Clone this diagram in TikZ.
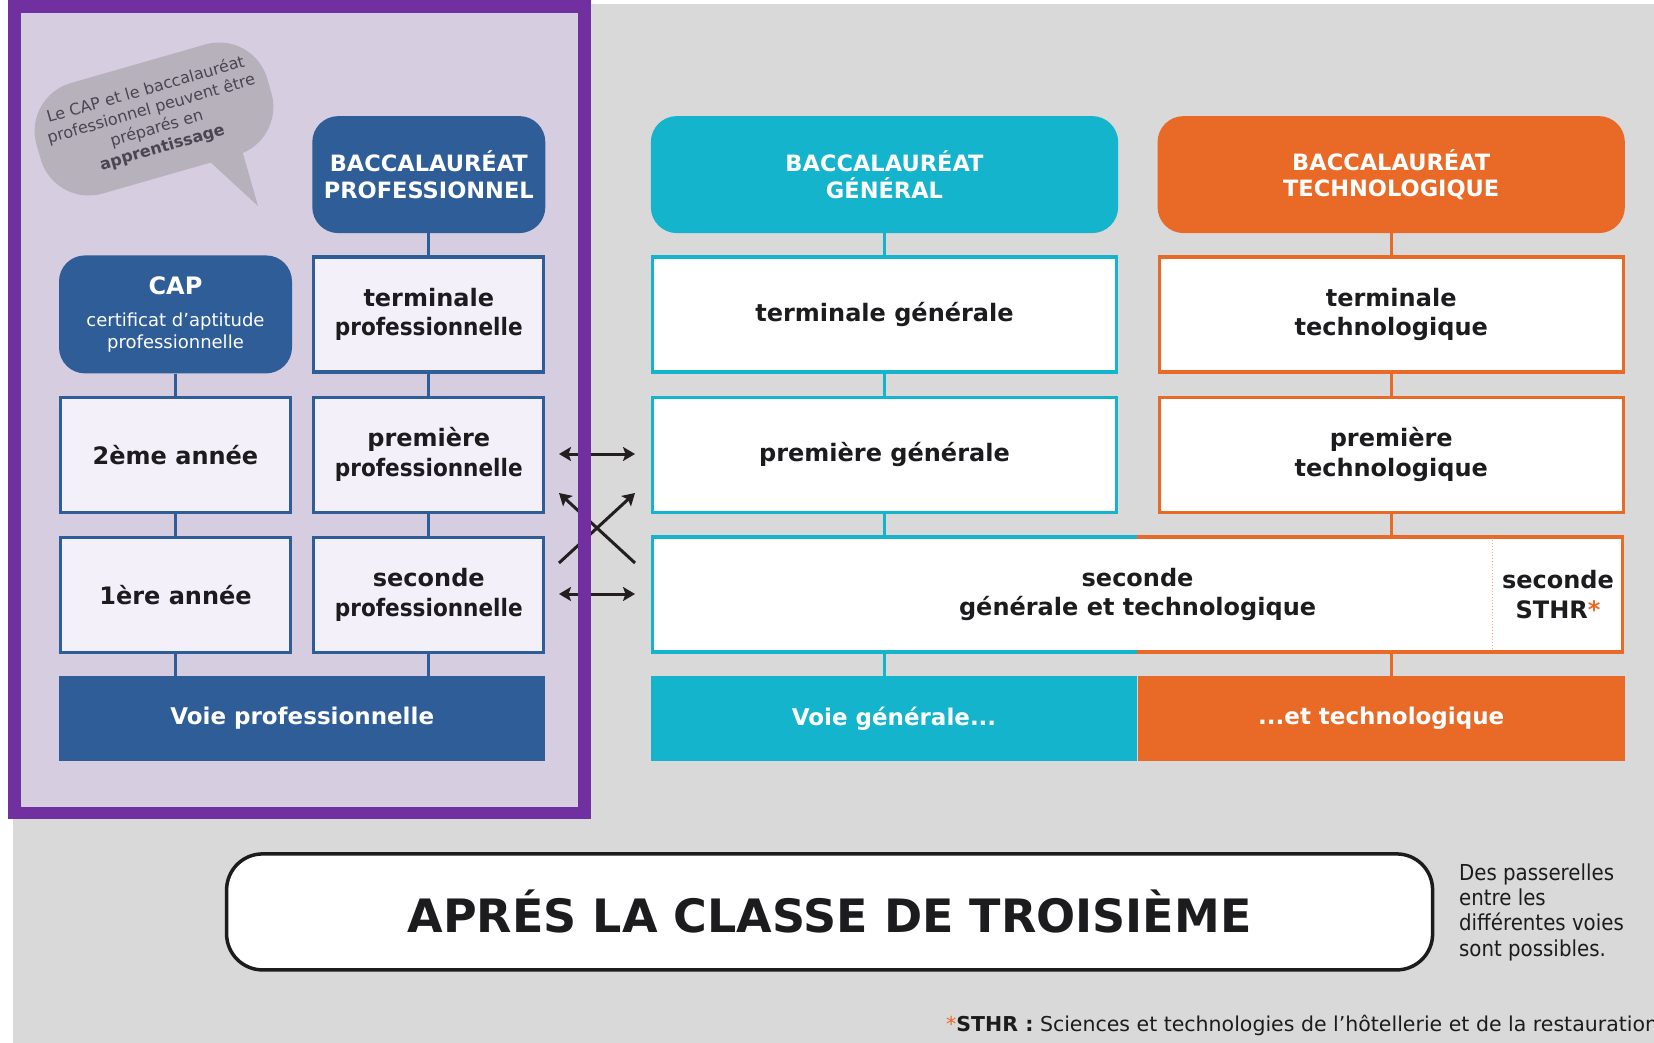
\documentclass[tikz,border=0pt]{standalone}
\usepackage{fontspec}
\usepackage{graphicx}
\setmainfont{DejaVu Sans}
\newfontfamily\etroite[FakeStretch=0.9]{DejaVu Sans}
\usetikzlibrary{positioning,arrows.meta}

\definecolor{fondgris}{HTML}{D9D9D9}
\definecolor{lavande}{HTML}{D6CEE0}
\definecolor{lavclair}{HTML}{F4F0FA}
\definecolor{cadreviolet}{HTML}{7030A0}
\definecolor{bleupro}{HTML}{2F5D98}
\definecolor{cyangen}{HTML}{14B4CC}
\definecolor{orangetech}{HTML}{E96A26}
\definecolor{grisbulle}{HTML}{B7B1BC}
\definecolor{encrebulle}{HTML}{4A4550}
\definecolor{encre}{HTML}{1C1C1E}
\definecolor{fleche}{HTML}{231F20}

\newcommand\serre[1]{\scalebox{0.9}[1]{#1}}

\begin{document}
\begin{tikzpicture}[x=1pt,y=-1pt,>={Stealth[length=12pt,width=14pt,inset=2.5pt]},
        node distance=22pt,
        case/.style={draw,line width=3.2pt,minimum width=230pt,minimum height=115pt,
            align=center,text=encre,font=\fontsize{24}{29.5}\selectfont\bfseries},
        pro/.style={case,draw=bleupro,fill=lavclair},
        gen/.style={case,draw=cyangen,fill=white,minimum width=464pt},
        tech/.style={case,draw=orangetech,fill=white,minimum width=464pt},
        bac/.style={rounded corners=26pt,minimum width=233pt,minimum height=117pt,align=center,
            text=white,font=\fontsize{22.5}{26.4}\selectfont\bfseries},
        voie/.style={minimum height=84.4pt,text=white,font=\fontsize{23}{28}\selectfont\bfseries},
        lien/.style={line width=3.2pt},
        passerelle/.style={line width=3pt,draw=fleche},
        bulle/.style={fill=grisbulle,rounded corners=50pt,minimum width=240pt,minimum height=115pt,
            inner sep=0pt,align=center,text=encrebulle,font=\fontsize{16}{20}\selectfont},
        titre/.style={draw=encre,line width=3.5pt,fill=white,rounded corners=36pt,
            minimum width=1206pt,minimum height=116pt,text=encre,font=\fontsize{46}{50}\selectfont\bfseries}]

    \useasboundingbox (0,0) rectangle (1654,1043);
    \fill[white] (0,0) rectangle (1654,1043);
    \fill[fondgris] (12.7,4) rectangle (1654,1043);
    \fill[lavande] (8,0) rectangle (590.7,819.3);

    \node[bulle, rotate=16] (bulle) at (154,119) {Le CAP et le baccalauréat\\professionnel peuvent être\\préparés en\\\textbf{apprentissage}};
    \fill[grisbulle] (208,160) -- (258,206) -- (242,150) -- cycle;

    \node[bac, fill=bleupro] (bacpro) at (428.8,174.6) {BACCALAURÉAT\\PROFESSIONNEL};
    \node[pro] (termpro) [below=of bacpro] {terminale\\\serre{professionnelle}};
    \node[pro] (prempro) [below=of termpro] {première\\\serre{professionnelle}};
    \node[pro] (secpro) [below=of prempro] {seconde\\\serre{professionnelle}};

    \node[bac, fill=bleupro, minimum height=118pt, font=\fontsize{18}{22.2}\selectfont] (cap) [left=20pt of termpro]
        {{\fontsize{24}{24}\selectfont\bfseries CAP}\\[10pt]certificat d’aptitude\\professionnelle};
    \node[pro] (deuxcap) [below=of cap] {2ème année};
    \node[pro] (premcap) [below=of deuxcap] {1ère année};

    \node[voie, fill=bleupro, minimum width=486.2pt] (voiepro) at (302.2,718.3) {Voie professionnelle};

    \node[bac, fill=cyangen, minimum width=467.3pt] (bacgen) at (884.5,174.6) {BACCALAURÉAT\\GÉNÉRAL};
    \node[gen] (termgen) [below=of bacgen] {terminale générale};
    \node[gen] (premgen) [below=of termgen] {première générale};

    \node[bac, fill=orangetech, minimum width=467.3pt] (bactech) [right=39pt of bacgen] {BACCALAURÉAT\\TECHNOLOGIQUE};
    \node[tech] (termtech) [below=of bactech] {terminale\\technologique};
    \node[tech] (premtech) [below=of termtech] {première\\technologique};

    \node[case, draw=none, fill=white, outer sep=0pt, minimum width=970.4pt] (secgt) at (1137.6,594.4)
        {seconde\\générale et technologique};
    \node[case, draw=none, outer sep=0pt, minimum width=131pt] (sthr) at (1558,594.4)
        {seconde\\STHR\textcolor{orangetech}{*}};
    \draw[orangetech!55, dotted, line width=1pt] (sthr.north west) -- (sthr.south west);

    \node[voie, fill=cyangen, minimum width=486.3pt] (voiegen) at (894,718.3) {Voie générale...};
    \node[voie, fill=orangetech, minimum width=487.3pt] (voietech) [right=0pt of voiegen] {...et technologique};

    \draw[lien, cyangen] (secgt.north -| voiegen.east) -- (secgt.north west) -- (secgt.south west) -- (secgt.south -| voiegen.east);
    \draw[lien, orangetech] (secgt.north -| voiegen.east) -- (secgt.north east) -- (secgt.south east) -- (secgt.south -| voiegen.east);

    \path[lien, bleupro]
    (bacpro) edge (termpro)
    (termpro) edge (prempro)
    (prempro) edge (secpro)
    (secpro) edge (secpro |- voiepro.north)
    (cap) edge (deuxcap)
    (deuxcap) edge (premcap)
    (premcap) edge (premcap |- voiepro.north);
    \path[lien, cyangen]
    (bacgen) edge (termgen)
    (termgen) edge (premgen)
    (premgen) edge (premgen |- secgt.north)
    (premgen |- secgt.south) edge (premgen |- voiegen.north);
    \path[lien, orangetech]
    (bactech) edge (termtech)
    (termtech) edge (premtech)
    (premtech) edge (premtech |- secgt.north)
    (premtech |- secgt.south) edge (premtech |- voietech.north);

    \coordinate (ga) at (559,454);
    \coordinate (da) at (635,454);
    \coordinate (gh) at (559,493);
    \coordinate (dh) at (635,493);
    \coordinate (gbas) at (559,563);
    \coordinate (dbas) at (635,563);
    \coordinate (gb) at (559,594);
    \coordinate (db) at (635,594);
    \draw[passerelle, <->] (ga) -- (da);
    \draw[passerelle, ->] (gbas) -- (dh);
    \draw[passerelle, ->] (dbas) -- (gh);
    \draw[passerelle, <->] (gb) -- (db);

    \draw[cadreviolet, line width=12.6pt] (14.3,6.3) rectangle (584.4,813);

    \node[titre] (titre) at (829.6,911.9) {APRÉS LA CLASSE DE TROISIÈME};
    \node[anchor=west, align=left, text=encre, font=\etroite\fontsize{22}{25.3}\selectfont] (passerelles) at (1455.6,912)
        {Des passerelles\\entre les\\différentes voies\\sont possibles.};
    \node[anchor=base west, inner sep=0pt, text=encre, font=\fontsize{20.5}{24}\selectfont] (note) at (946,1031)
        {\textcolor{orangetech}{*}\textbf{STHR :} Sciences et technologies de l’hôtellerie et de la restauration};
\end{tikzpicture}
\end{document}
